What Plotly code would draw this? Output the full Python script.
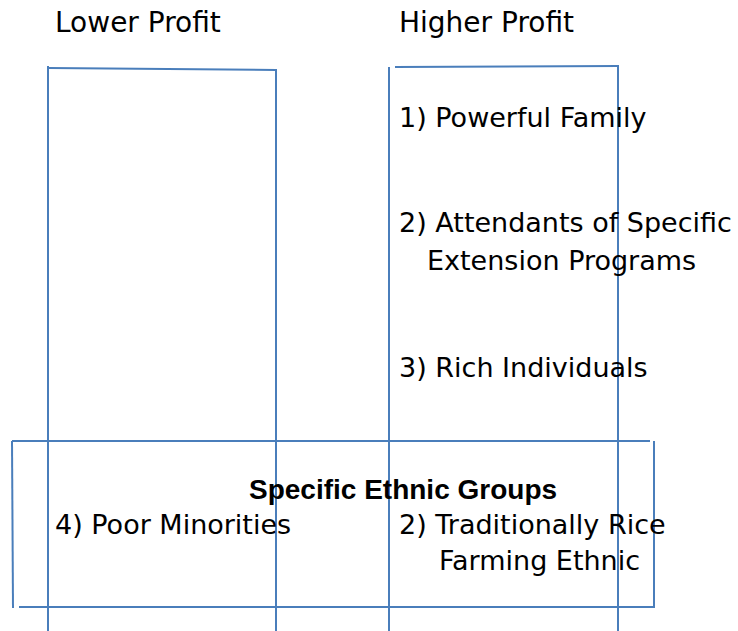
import plotly.graph_objects as go

# Content
column_headers = ["Lower Profit", "Higher Profit"]
higher_items = ["1) Powerful Family", "2) Attendants of Specific", "Extension Programs", "3) Rich Individuals"]
group_title = "Specific Ethnic Groups"
group_items = ["4) Poor Minorities", "2) Traditionally Rice", "Farming Ethnic"]

W, H = 738, 631
BLUE = "#4a7ebb"
FONT = "DejaVu Sans"

fig = go.Figure()

# layout positions (pixel space)
header_pos = [(53, 22), (397, 22)]
higher_pos = [(397, 117), (397, 222), (425, 260), (397, 367)]
group_title_pos = (247, 489)
group_pos = [(53, 524), (397, 524), (437, 560)]

segments = [
    # left column box
    (48, 66, 48, 631), (49, 68, 276, 70), (276, 69, 276, 631),
    # right column box
    (389, 67, 389, 631), (395, 67, 619, 66), (618, 66, 618, 631),
    # bottom box
    (12, 441, 650, 441), (12, 441, 13, 608), (19, 607, 654, 607), (654, 441, 654, 608),
]
for x0, y0, x1, y1 in segments:
    fig.add_shape(type="line", x0=x0, y0=y0, x1=x1, y1=y1,
                  line=dict(color=BLUE, width=2), xref="x", yref="y")

def add_text(txt, pos, bold=False, family=FONT, size=27):
    fig.add_annotation(x=pos[0], y=pos[1], text=("<b>%s</b>" % txt) if bold else txt,
                       xanchor="left", yanchor="middle", showarrow=False,
                       font=dict(family=family, size=size, color="black"),
                       xref="x", yref="y")

header_sizes = [28, 28]
for t, p, s in zip(column_headers, header_pos, header_sizes):
    add_text(t, p, size=s)
for t, p in zip(higher_items, higher_pos):
    add_text(t, p)
add_text(group_title, group_title_pos, bold=True, family="Liberation Sans", size=28)
for t, p in zip(group_items, group_pos):
    add_text(t, p)

fig.update_layout(
    width=W, height=H, margin=dict(l=0, r=0, t=0, b=0),
    paper_bgcolor="white", plot_bgcolor="white", showlegend=False,
    xaxis=dict(range=[0, W], visible=False, fixedrange=True),
    yaxis=dict(range=[H, 0], visible=False, fixedrange=True),
)
fig.write_html("out.html", config={"displayModeBar": False},
               post_script="document.body.style.margin='0';document.body.style.overflow='hidden';")
